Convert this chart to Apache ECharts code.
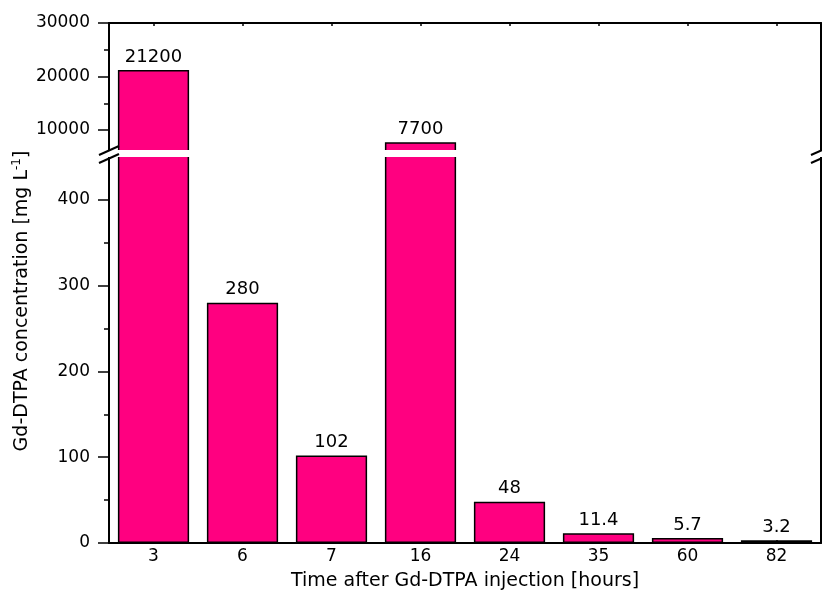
<!DOCTYPE html>
<html>
<head>
<meta charset="utf-8">
<title>Gd-DTPA concentration</title>
<script src="https://cdn.jsdelivr.net/npm/echarts@6/dist/echarts.min.js"></script>
<style>
  html, body { margin: 0; padding: 0; background: #fff; }
  #chart { width: 822px; height: 596px; }
</style>
</head>
<body>
<div id="chart"></div>
<script>
// Sampling times after injection (hours) and measured concentrations (mg/L)
const hours = ['3', '6', '7', '16', '24', '35', '60', '82'];
const concentration = [21200, 280, 102, 7700, 48, 11.4, 5.7, 3.2];

// Broken value axis: lower segment and upper segment
const lowerRange = [0, 451];
const upperRange = [6075, 30000];
const lowerLabels = [0, 100, 200, 300, 400];
const lowerMinor = [50, 150, 250, 350];
const upperLabels = [10000, 20000, 30000];
const upperMinor = [15000, 25000];

const FONT = 'DejaVu Sans';
const BAR_COLOR = '#ff0080';

// Layout of the two stacked grids
const GRID_LEFT = 109, GRID_RIGHT = 1;
const UPPER_TOP = 23, UPPER_HEIGHT = 128;
const LOWER_TOP = 156, LOWER_BOTTOM = 51;
const GAP_TOP = 150, GAP_HEIGHT = 7;

const chart = echarts.init(document.getElementById('chart'), null, { renderer: 'canvas' });

const lowerMax = lowerRange[1];
const upperData = concentration.map(v => (v > lowerMax ? v : '-'));

function valueAxis(grid, range, opts) {
  return Object.assign({
    type: 'value',
    gridIndex: grid,
    min: range[0],
    max: range[1],
    splitLine: { show: false },
    axisLine: { show: false },
    axisTick: { show: false },
    axisLabel: { show: false }
  }, opts);
}

const plain = v => String(v);
const axisLineStyle = { color: '#000', width: 2 };
const tickStyle = { color: '#000', width: 1.5 };
const labelStyle = { color: '#000', fontFamily: FONT, fontSize: 17 };

const option = {
  animation: false,
  backgroundColor: '#fff',
  grid: [
    { left: GRID_LEFT, right: GRID_RIGHT, top: UPPER_TOP, height: UPPER_HEIGHT },
    { left: GRID_LEFT, right: GRID_RIGHT, top: LOWER_TOP, bottom: LOWER_BOTTOM }
  ],
  xAxis: [
    {
      type: 'category', gridIndex: 0, data: hours, position: 'top',
      axisLine: { lineStyle: axisLineStyle },
      axisTick: { show: true, inside: true, length: 3, alignWithLabel: true, lineStyle: tickStyle },
      axisLabel: { show: false }
    },
    {
      type: 'category', gridIndex: 1, data: hours, position: 'bottom',
      axisLine: { lineStyle: axisLineStyle },
      axisTick: { show: true, inside: true, length: 3, alignWithLabel: true, lineStyle: tickStyle },
      axisLabel: Object.assign({ margin: 5 }, labelStyle),
      name: 'Time after Gd-DTPA injection [hours]',
      nameLocation: 'middle',
      nameGap: 29,
      nameTextStyle: { color: '#000', fontFamily: FONT, fontSize: 19 }
    }
  ],
  yAxis: [
    // upper segment, left: major ticks + labels
    valueAxis(0, upperRange, {
      position: 'left',
      axisLine: { show: true, lineStyle: axisLineStyle },
      axisTick: { show: true, length: 11, customValues: upperLabels, lineStyle: tickStyle },
      axisLabel: Object.assign({ show: true, margin: 19, customValues: upperLabels, formatter: plain }, labelStyle)
    }),
    // upper segment, left: minor ticks
    valueAxis(0, upperRange, {
      position: 'left',
      axisTick: { show: true, length: 5, customValues: upperMinor, lineStyle: tickStyle }
    }),
    // upper segment, right frame
    valueAxis(0, upperRange, {
      position: 'right',
      axisLine: { show: true, lineStyle: axisLineStyle }
    }),
    // lower segment, left: major ticks + labels
    valueAxis(1, lowerRange, {
      position: 'left',
      axisLine: { show: true, lineStyle: axisLineStyle },
      axisTick: { show: true, length: 11, customValues: lowerLabels, lineStyle: tickStyle },
      axisLabel: Object.assign({ show: true, margin: 19, customValues: lowerLabels, formatter: plain }, labelStyle)
    }),
    // lower segment, left: minor ticks
    valueAxis(1, lowerRange, {
      position: 'left',
      axisTick: { show: true, length: 5, customValues: lowerMinor, lineStyle: tickStyle }
    }),
    // lower segment, right frame
    valueAxis(1, lowerRange, {
      position: 'right',
      axisLine: { show: true, lineStyle: axisLineStyle }
    })
  ],
  series: [
    {
      type: 'bar',
      xAxisIndex: 0,
      yAxisIndex: 0,
      data: upperData,
      barWidth: '80%',
      clip: true,
      itemStyle: { color: BAR_COLOR, borderColor: '#000', borderWidth: 1.5 },
      label: {
        show: true, position: 'top', distance: 4,
        color: '#000', fontFamily: FONT, fontSize: 18,
        formatter: p => String(p.value)
      }
    },
    {
      type: 'bar',
      xAxisIndex: 1,
      yAxisIndex: 3,
      data: concentration,
      barWidth: '80%',
      clip: true,
      itemStyle: { color: BAR_COLOR, borderColor: '#000', borderWidth: 1.5 },
      label: {
        show: true, position: 'top', distance: 4,
        color: '#000', fontFamily: FONT, fontSize: 18,
        formatter: p => (p.value <= lowerMax ? String(p.value) : '')
      }
    }
  ]
};

chart.setOption(option);

// Break in the value axis: white band across the plot plus the "//" marks
const W = chart.getWidth();
const leftX = GRID_LEFT;
const rightX = W - GRID_RIGHT;
function breakMarks(cx) {
  const dx = 10, dy = 4.5;
  const y1 = GAP_TOP + 0.5, y2 = GAP_TOP + GAP_HEIGHT + 1.5;
  const style = { stroke: '#000', lineWidth: 2 };
  return [
    { type: 'line', z: 101, shape: { x1: cx - dx, y1: y1 + dy, x2: cx + dx, y2: y1 - dy }, style },
    { type: 'line', z: 101, shape: { x1: cx - dx, y1: y2 + dy, x2: cx + dx, y2: y2 - dy }, style }
  ];
}

chart.setOption({
  graphic: [
    {
      type: 'rect', z: 100,
      shape: { x: leftX - 6, y: GAP_TOP, width: rightX - leftX + 12, height: GAP_HEIGHT },
      style: { fill: '#fff' }
    },
    ...breakMarks(leftX),
    ...breakMarks(rightX),
    {
      type: 'text', z: 101,
      x: 22, y: 301,
      rotation: Math.PI / 2,
      style: {
        text: '{n|Gd-DTPA concentration [mg L}{s|-1}{n|]}',
        align: 'center',
        verticalAlign: 'middle',
        fill: '#000',
        rich: {
          n: { fontFamily: FONT, fontSize: 19, fill: '#000', lineHeight: 22 },
          s: { fontFamily: FONT, fontSize: 12, fill: '#000', verticalAlign: 'top', lineHeight: 22 }
        }
      }
    }
  ]
});
</script>
</body>
</html>
